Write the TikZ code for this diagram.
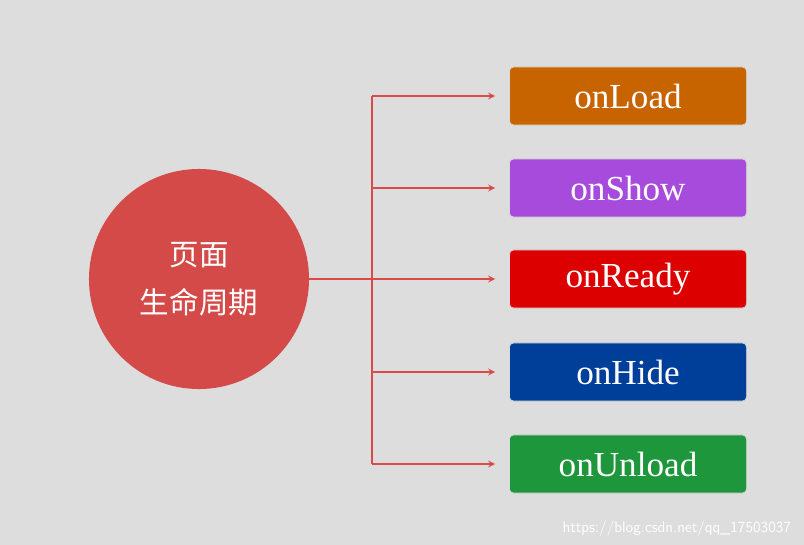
\documentclass[tikz,border=0pt]{standalone}
\usepackage{fontspec}
\setmainfont{Liberation Serif}
\newfontfamily\cjk{Noto Sans CJK SC}
\usetikzlibrary{positioning}
\colorlet{lineColor}{red!70!black!80!white}
\definecolor{bgGray}{HTML}{DCDDDC}
\definecolor{circleRed}{HTML}{D44A48}
\definecolor{arrowRed}{HTML}{D94A48}
\definecolor{loadColor}{HTML}{C86400}
\definecolor{showColor}{HTML}{A64BDB}
\definecolor{readyColor}{HTML}{DD0000}
\definecolor{hideColor}{HTML}{003F99}
\definecolor{unloadColor}{HTML}{1E963C}
\tikzset{
  hook/.style={draw=white!70!gray,rounded corners=3pt,minimum width=5.925cm,minimum height=1.45cm,
    text=white,font=\fontsize{25}{28}\selectfont},
  link/.style={arrowRed,line width=1.2pt},
  >=stealth
}

\begin{document}
\begin{tikzpicture}[x=0.025cm,y=-0.025cm]
      \fill [bgGray] (0,0) rectangle (804,545);

      \node [circle,fill=circleRed,minimum size=5.5cm,text=white,align=center,
        font=\cjk\fontsize{21}{34}\selectfont] (page) at (199,279) {页面\\生命周期};

      \node [hook,fill=loadColor] (load) at (628,96) {onLoad};
      \node [hook,fill=showColor] (show) at (628,188) {onShow};
      \node [hook,fill=readyColor] (ready) at (628,279) {onReady};
      \node [hook,fill=hideColor] (hide) at (628,372) {onHide};
      \node [hook,fill=unloadColor] (unload) at (628,464) {onUnload};

      \coordinate (top) at (372,96);
      \coordinate (bottom) at (372,464);
      \draw [link] (top) -- (bottom);
      \draw [link] (page.east) -- (372,279);
      \foreach \n in {load,show,ready,hide,unload}
        \draw [link,->] (top |- \n) -- ([xshift=-10]\n.west);

      \node [anchor=south east,text=white,font=\sffamily\fontsize{11}{12}\selectfont] (mark) at (796,541) {https://blog.csdn.net/qq\_17503037};
\end{tikzpicture}
\end{document}
